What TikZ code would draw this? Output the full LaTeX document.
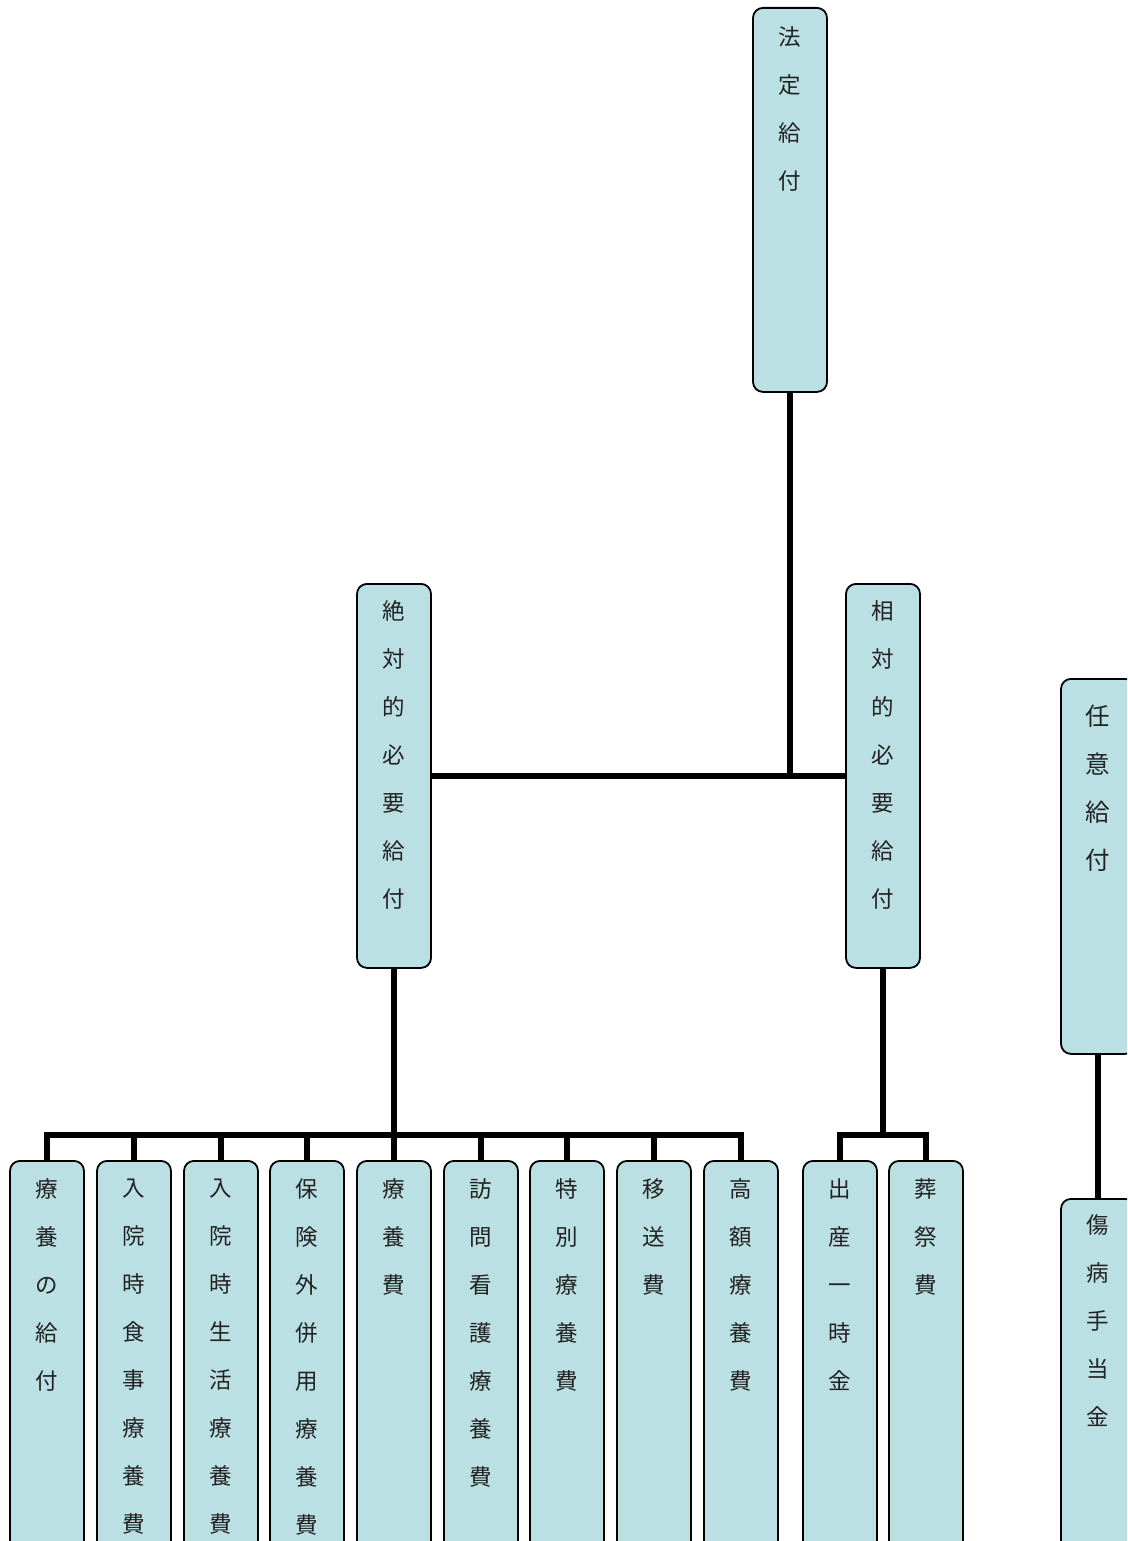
\documentclass[tikz,border=0pt]{standalone}
\usepackage{fontspec}
\newfontfamily\jp{Noto Sans CJK JP}
\definecolor{boxfill}{HTML}{BBE0E3}
\definecolor{txtcol}{HTML}{222222}
\tikzset{
  box/.style={draw=black, line width=1.8pt, rounded corners=10pt, fill=boxfill,
    minimum width=74pt, inner sep=0pt, anchor=north},
  txt/.style={anchor=north, inner sep=0pt, align=center, text=txtcol,
    font=\jp\fontsize{22.5}{48}\selectfont},
  conn/.style={draw=black, line width=6pt}
}
\begin{document}
\begin{tikzpicture}[x=1pt,y=-1pt]
\useasboundingbox (0,0) rectangle (1127,1541);
\clip (0,0) rectangle (1127,1541);
% top
\node[box, minimum height=384pt] (hotei) at (790,7) {};
\node[txt] (hotei-t) at (790,26.5) {法\\定\\給\\付};
% middle
\node[box, minimum height=384pt] (zettai) at (394,583) {};
\node[txt] (zettai-t) at (394,600.5) {絶\\対\\的\\必\\要\\給\\付};
\node[box, minimum height=384pt] (soutai) at (883,583) {};
\node[txt] (soutai-t) at (883,600.5) {相\\対\\的\\必\\要\\給\\付};
% optional
\node[box, minimum height=375pt] (nini) at (1098,678) {};
\node[txt, font=\jp\fontsize{24.5}{48}\selectfont] (nini-t) at (1098,704.5) {任\\意\\給\\付};
\node[box, minimum height=420pt] (shobyo) at (1098,1198) {};
\node[txt] (shobyo-t) at (1098,1214.5) {傷\\病\\手\\当\\金};
% bottom
\foreach \i/\x/\t in {
  1/47/{療\\養\\の\\給\\付},
  2/134/{入\\院\\時\\食\\事\\療\\養\\費},
  3/221/{入\\院\\時\\生\\活\\療\\養\\費},
  4/307/{保\\険\\外\\併\\用\\療\\養\\費},
  5/394/{療\\養\\費},
  6/481/{訪\\問\\看\\護\\療\\養\\費},
  7/567/{特\\別\\療\\養\\費},
  8/654/{移\\送\\費},
  9/741/{高\\額\\療\\養\\費},
  10/840/{出\\産\\一\\時\\金},
  11/926/{葬\\祭\\費}}{
  \node[box, minimum height=420pt] (b\i) at (\x,1160) {};
  \node[txt] (b\i-t) at (\x,1178.5) {\t};
}
% connectors
\draw[conn] (zettai.east) -- (soutai.west);
\draw[conn] (hotei.south) -- (hotei.south |- zettai.east);
\coordinate (bus) at (0,1135);
\draw[conn] (zettai.south) -- (zettai.south |- bus);
\draw[conn, line cap=rect] (b1.north |- bus) -- (b9.north |- bus);
\foreach \i in {1,...,9}{\draw[conn] (b\i.north) -- (b\i.north |- bus);}
\draw[conn] (soutai.south) -- (soutai.south |- bus);
\draw[conn, line cap=rect] (b10.north |- bus) -- (b11.north |- bus);
\foreach \i in {10,11}{\draw[conn] (b\i.north) -- (b\i.north |- bus);}
\draw[conn] (nini.south) -- (shobyo.north);
\end{tikzpicture}
\end{document}
